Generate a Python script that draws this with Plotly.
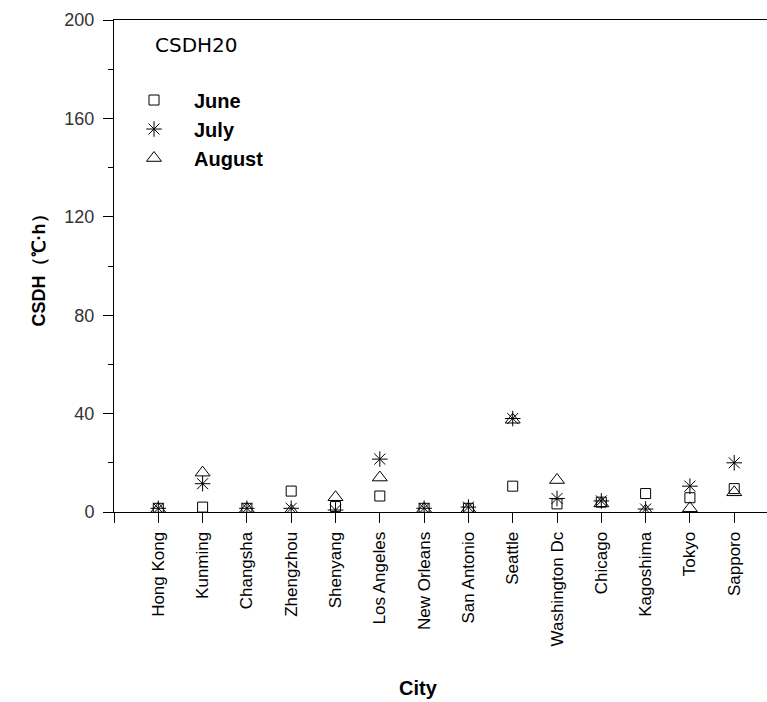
import plotly.graph_objects as go

cities = ["Hong Kong", "Kunming", "Changsha", "Zhengzhou", "Shenyang",
          "Los Angeles", "New Orleans", "San Antonio", "Seattle",
          "Washington Dc", "Chicago", "Kagoshima", "Tokyo", "Sapporo"]
june = [1.5, 2.0, 1.5, 8.5, 2.2, 6.5, 1.5, 1.5, 10.5, 3.3, 4.0, 7.5, 5.8, 9.5]
july = [1.5, 11.5, 1.5, 1.5, 0.8, 21.5, 1.5, 2.0, 38.0, 5.5, 4.5, 1.2, 10.5, 20.0]
august = [1.2, 16.0, 1.2, 0.5, 6.0, 14.0, 1.2, 1.2, 37.5, 13.0, 3.5, 0.5, 1.5, 8.0]
y_ticks = [0, 40, 80, 120, 160, 200]

positions = list(range(1, len(cities) + 1))
FONT = "Liberation Sans, Arial, sans-serif"
WIDE = "DejaVu Sans, Verdana, sans-serif"

series = [
    ("June", june, "square-open", 10),
    ("July", july, "asterisk-open", 13),
    ("August", august, "triangle-up-open", 13),
]

fig = go.Figure()
for name, vals, sym, size in series:
    fig.add_trace(go.Scatter(
        x=positions, y=vals, mode="markers", name=name,
        legendgroup=name, cliponaxis=True,
        marker=dict(symbol=sym, size=size, color="black",
                    line=dict(color="black", width=1)),
    ))

fig.update_layout(
    width=767, height=702,
    margin=dict(l=114, r=0, t=20, b=190),
    paper_bgcolor="white", plot_bgcolor="white",
    font=dict(family=FONT, color="black"),
    showlegend=True,
    legend=dict(
        x=0.0, y=0.877, xanchor="left", yanchor="top",
        bgcolor="rgba(0,0,0,0)", borderwidth=0,
        itemwidth=70, tracegroupgap=0,
        font=dict(family=FONT, size=20, color="black", weight="bold"),
    ),
    annotations=[
        dict(text="CSDH20", x=0.059, y=0.977, xref="paper", yref="paper",
             xanchor="left", yanchor="top", showarrow=False,
             font=dict(family=WIDE, size=20, color="black")),
        dict(text="City", x=0.467, y=-0.358, xref="paper", yref="paper",
             xanchor="center", yanchor="middle", showarrow=False,
             font=dict(family=FONT, size=20, color="black", weight="bold")),
    ],
)

fig.update_xaxes(
    range=[0, 14.74],
    tickmode="array",
    tickvals=[0] + positions,
    ticktext=[""] + cities,
    tickangle=-90,
    ticks="outside", ticklen=10, tickwidth=1, tickcolor="black",
    ticklabelstandoff=2,
    showline=True, linecolor="black", linewidth=1, mirror=True,
    showgrid=False, zeroline=False,
    tickfont=dict(family=FONT, size=17, color="black"),
)

fig.update_yaxes(
    range=[0, 200],
    tickmode="array", tickvals=y_ticks,
    ticks="outside", ticklen=10, tickwidth=1, tickcolor="black",
    ticklabelstandoff=5,
    minor=dict(tickvals=[20, 60, 100, 140, 180], ticks="outside",
               ticklen=5, tickwidth=1, tickcolor="black"),
    showline=True, linecolor="black", linewidth=1,
    showgrid=False, zeroline=False,
    tickfont=dict(family=FONT, size=18, color="#333333"),
    title=dict(text="CSDH（℃·h）", standoff=14,
               font=dict(family=FONT, size=18, color="black", weight="bold")),
)

fig.write_html("out.html")
